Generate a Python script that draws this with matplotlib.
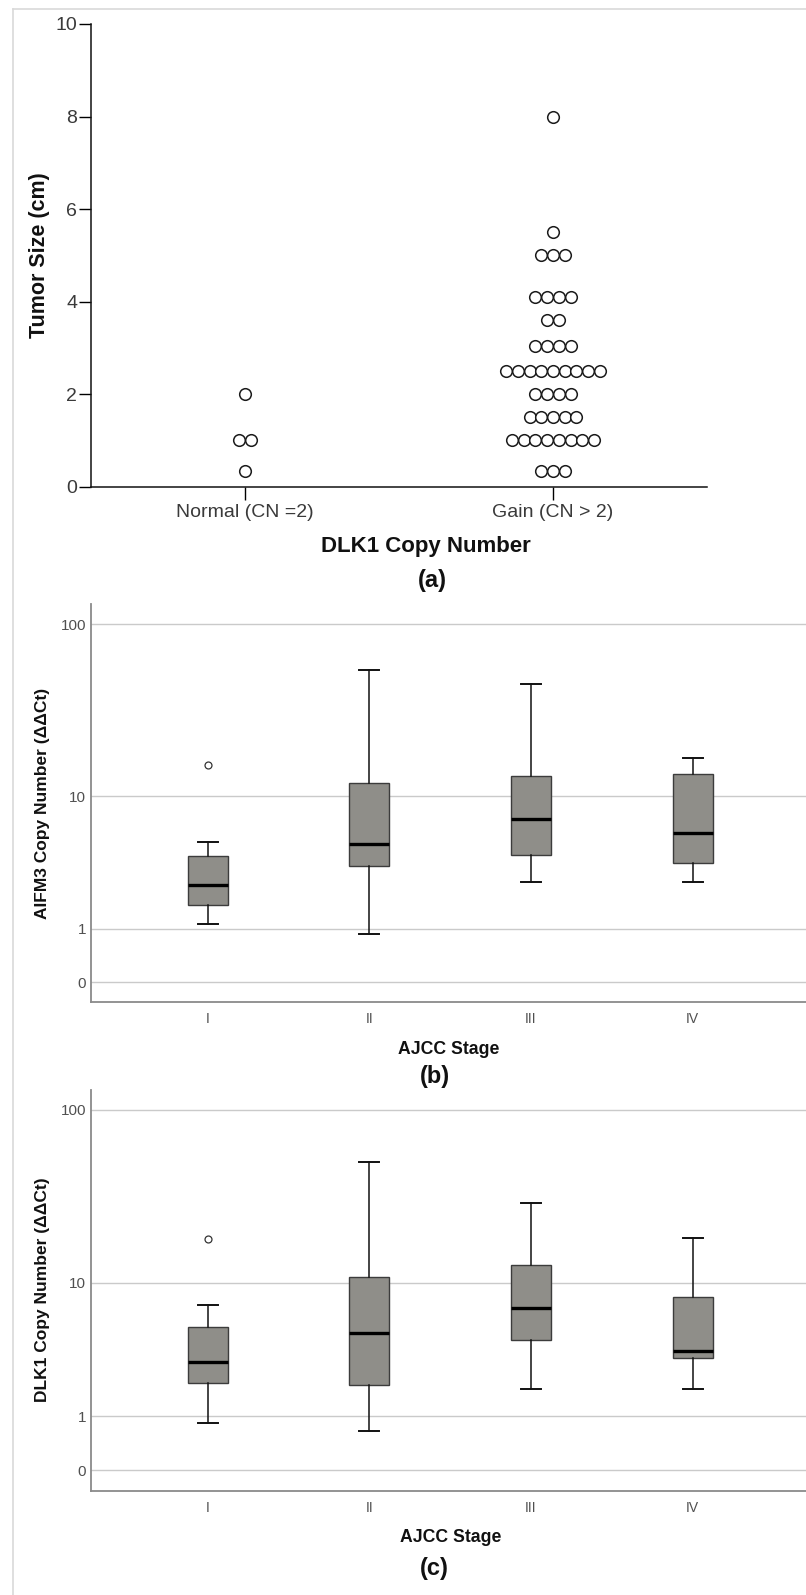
import numpy as np
import matplotlib
matplotlib.use('Agg')
import matplotlib.pyplot as plt
from matplotlib.lines import Line2D
from matplotlib.ticker import NullLocator

plt.rcParams['font.family'] = ['Liberation Sans', 'DejaVu Sans']

# (a) tumor size by DLK1 copy number group
groups_a = ['Normal (CN =2)', 'Gain (CN > 2)']
normal_sizes = [2.0, 1.0, 1.0, 0.35]
gain_sizes = [8.0, 5.5, 5.0, 5.0, 5.0, 4.1, 4.1, 4.1, 4.1, 3.6, 3.6,
              3.05, 3.05, 3.05, 3.05,
              2.5, 2.5, 2.5, 2.5, 2.5, 2.5, 2.5, 2.5, 2.5,
              2.0, 2.0, 2.0, 2.0, 1.5, 1.5, 1.5, 1.5, 1.5,
              1.0, 1.0, 1.0, 1.0, 1.0, 1.0, 1.0, 1.0, 0.35, 0.35, 0.35]

# (b) AIFM3 copy number by AJCC stage
stages = ['I', 'II', 'III', 'IV']
aifm3_lo = [1.13, 0.86, 2.64, 2.64]
aifm3_q1 = [1.71, 3.46, 4.18, 3.64]
aifm3_med = [2.52, 4.93, 7.24, 5.83]
aifm3_q3 = [4.11, 12.1, 13.2, 13.66]
aifm3_hi = [5.10, 55.3, 45.6, 16.95]
aifm3_out = [[15.5], [], [], []]

# (c) DLK1 copy number by AJCC stage
dlk1_lo = [0.84, 0.65, 1.82, 1.82]
dlk1_q1 = [2.07, 1.98, 4.28, 3.20]
dlk1_med = [3.0, 4.82, 6.95, 3.62]
dlk1_q3 = [5.28, 10.9, 12.9, 8.23]
dlk1_hi = [7.33, 50.7, 29.5, 18.5]
dlk1_out = [[18.4], [], [], []]

W, H = 806, 1595
fig = plt.figure(figsize=(W / 100, H / 100), dpi=100)


def fx(px):
    return px / W


def fy(py):
    return 1 - py / H


def add_ax(left, top, right, bottom):
    return fig.add_axes([fx(left), fy(bottom), fx(right) - fx(left), fy(top) - fy(bottom)])


# light frame around the figure
fig.add_artist(Line2D([fx(12.5), fx(12.5)], [fy(9), 0], transform=fig.transFigure,
                      color='#d9d9d9', lw=1.2))
fig.add_artist(Line2D([fx(12.5), 1], [fy(9), fy(9)], transform=fig.transFigure,
                      color='#d9d9d9', lw=1.2))

# ---------- panel (a) ----------
ax = add_ax(91, 24, 707, 486.7)


def stack_offsets(values, step):
    vals = np.asarray(values)
    xs = np.zeros(len(vals))
    for v in np.unique(vals):
        idx = np.where(vals == v)[0]
        xs[idx] = (np.arange(len(idx)) - (len(idx) - 1) / 2) * step
    return xs


step = 0.038
for i, vals in enumerate([normal_sizes, gain_sizes]):
    ax.scatter(i + 1 + stack_offsets(vals, step), vals, s=70, facecolors='white',
               edgecolors='#1a1a1a', linewidths=1.1, zorder=3, clip_on=False)

ax.set_xlim(0.5, 2.5)
ax.set_ylim(0, 10)
ax.set_yticks([0, 2, 4, 6, 8, 10])
ax.set_xticks([1, 2], groups_a)
for s in ['top', 'right']:
    ax.spines[s].set_visible(False)
for s in ['left', 'bottom']:
    ax.spines[s].set_linewidth(1.1)
    ax.spines[s].set_color('#111111')
ax.tick_params(axis='y', length=9, width=1.0, pad=1, labelsize=14, labelcolor='#3a3a3a')
ax.tick_params(axis='x', length=9.5, width=1.0, pad=3, labelsize=14, labelcolor='#3a3a3a')

fig.text(fx(40), fy(255), 'Tumor Size (cm)', rotation=90, ha='center', va='center',
         fontsize=15.5, fontweight='bold', color='#111111')
fig.text(fx(425.5), fy(546.7), 'DLK1 Copy Number', ha='center', va='center',
         fontsize=16, fontweight='bold', color='#111111')
fig.text(fx(432.6), fy(581), '(a)', ha='center', va='center',
         fontsize=17, fontweight='bold', color='#111111')


# ---------- panels (b) and (c) ----------
def fwd(y):
    return np.log10(np.clip(np.asarray(y, dtype=float) + 1, 1e-6, None))


def inv(y):
    return 10 ** np.asarray(y, dtype=float) - 1


def box_panel(ax, lo, q1, med, q3, hi, out, ylim):
    stats = []
    for k in range(len(stages)):
        stats.append({'whislo': lo[k], 'q1': q1[k], 'med': med[k], 'q3': q3[k],
                      'whishi': hi[k], 'fliers': out[k]})
    ax.set_yscale('function', functions=(fwd, inv))
    ax.bxp(stats, positions=[1, 2, 3, 4], widths=0.248, capwidths=0.124,
           patch_artist=True,
           boxprops=dict(facecolor='#8f8e89', edgecolor='#3c3c3c', linewidth=1.0),
           medianprops=dict(color='black', linewidth=2.4),
           whiskerprops=dict(color='#111111', linewidth=1.1),
           capprops=dict(color='#111111', linewidth=1.4),
           flierprops=dict(marker='o', markerfacecolor='white', markeredgecolor='#333333',
                           markersize=5, markeredgewidth=0.9))
    ax.set_xlim(1 - 0.723, 4 + 0.713)
    ax.set_ylim(*ylim)
    ax.set_yticks([0, 1, 10, 100], ['0', '1', '10', '100'])
    ax.yaxis.set_minor_locator(NullLocator())
    ax.set_xticks([1, 2, 3, 4], stages)
    ax.yaxis.grid(True, color='#cacaca', linewidth=1.0)
    ax.set_axisbelow(True)
    for s in ['top', 'right']:
        ax.spines[s].set_visible(False)
    for s in ['left', 'bottom']:
        ax.spines[s].set_color('#8a8a8a')
        ax.spines[s].set_linewidth(1.3)
    ax.tick_params(axis='y', length=0, pad=3.4, labelsize=11, labelcolor='#505050')
    ax.tick_params(axis='x', length=0, pad=7.5, labelsize=10, labelcolor='#505050')


axb = add_ax(90.7, 604, W + 2, 1001.7)
box_panel(axb, aifm3_lo, aifm3_q1, aifm3_med, aifm3_q3, aifm3_hi, aifm3_out, (-0.221, 130.2))
fig.text(fx(43), fy(803), 'AIFM3 Copy Number (\u0394\u0394Ct)', rotation=90, ha='center',
         va='center', fontsize=12.5, fontweight='bold', color='#111111')
fig.text(fx(448.7), fy(1050), 'AJCC Stage', ha='center', va='center',
         fontsize=12.7, fontweight='bold', color='#111111')
fig.text(fx(434.7), fy(1076.7), '(b)', ha='center', va='center',
         fontsize=17, fontweight='bold', color='#111111')

axc = add_ax(90.7, 1090, W + 2, 1491)
box_panel(axc, dlk1_lo, dlk1_q1, dlk1_med, dlk1_q3, dlk1_hi, dlk1_out, (-0.233, 129.0))
fig.text(fx(43), fy(1290), 'DLK1 Copy Number (\u0394\u0394Ct)', rotation=90, ha='center',
         va='center', fontsize=12.5, fontweight='bold', color='#111111')
fig.text(fx(451), fy(1537.8), 'AJCC Stage', ha='center', va='center',
         fontsize=12.7, fontweight='bold', color='#111111')
fig.text(fx(434.5), fy(1568.5), '(c)', ha='center', va='center',
         fontsize=17, fontweight='bold', color='#111111')

fig.savefig('out.png', dpi=100)
